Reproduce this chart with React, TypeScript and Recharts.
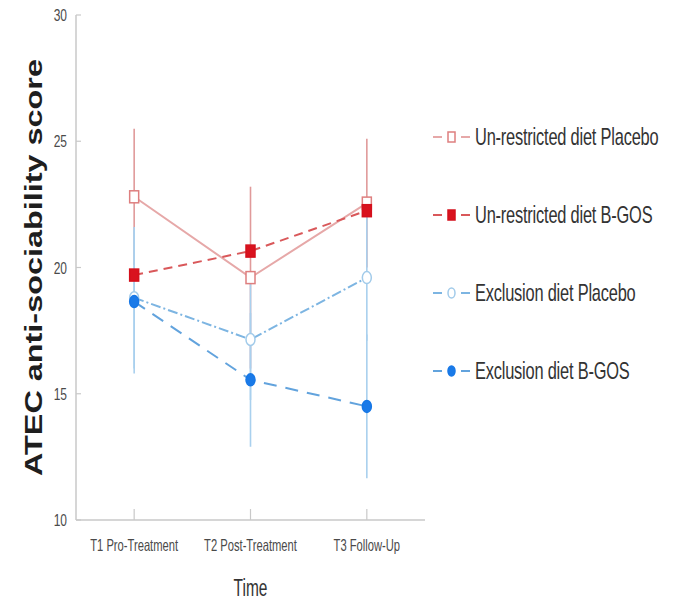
import React from 'react';
import { LineChart, Line, XAxis, YAxis, ErrorBar, Label } from 'recharts';

const times = ['T1 Pro-Treatment', 'T2 Post-Treatment', 'T3 Follow-Up'];
const unPlacebo = [22.8, 19.6, 22.55];
const unPlaceboErr = [2.7, 3.6, 2.55];
const unBgos = [19.7, 20.65, 22.25];
const exPlacebo = [18.8, 17.15, 19.6];
const exPlaceboErr = [2.8, 2.4, 2.5];
const exBgos = [18.65, 15.55, 14.5];
const exBgosErr = [2.85, 2.65, 2.85];
const yTicks = [10, 15, 20, 25, 30];

// the source picture is stretched vertically, text gets the same stretch
const SY = 1.4;
const FONT = "'Liberation Sans', Arial, sans-serif";
const BOX = '#c9c9c9';

const data = times.map((t, i) => ({
  time: t,
  unPlacebo: unPlacebo[i],
  unPlaceboErr: unPlaceboErr[i],
  unBgos: unBgos[i],
  exPlacebo: exPlacebo[i],
  exPlaceboErr: exPlaceboErr[i],
  exBgos: exBgos[i],
  exBgosErr: exBgosErr[i],
}));

type Series = {
  key: string;
  name: string;
  line: string;
  dash?: string;
  shape: 'square' | 'circle';
  stroke: string;
  fill: string;
  err?: string;
  errColor?: string;
};

const series: Series[] = [
  { key: 'unPlacebo', name: 'Un-restricted diet Placebo', line: '#e6a8a8', shape: 'square', stroke: '#de7f7f', fill: '#fff', err: 'unPlaceboErr', errColor: '#e09a9a' },
  { key: 'unBgos', name: 'Un-restricted diet B-GOS', line: '#d9585a', dash: '9 6', shape: 'square', stroke: '#d4101c', fill: '#d9121e' },
  { key: 'exPlacebo', name: 'Exclusion diet Placebo', line: '#7db5e2', dash: '10 3 2 3', shape: 'circle', stroke: '#a2cbea', fill: '#fff', err: 'exPlaceboErr', errColor: '#a9d0ee' },
  { key: 'exBgos', name: 'Exclusion diet B-GOS', line: '#62a3dd', dash: '13 9', shape: 'circle', stroke: '#1677e6', fill: '#1a7ae8', err: 'exBgosErr', errColor: '#a9d0ee' },
];

// red B-GOS sits on top in the original
const drawOrder = ['unPlacebo', 'exPlacebo', 'exBgos', 'unBgos'];

function Marker({ cx, cy, s, w = 9, h = 12 }: { cx: number; cy: number; s: Series; w?: number; h?: number }) {
  if (cx == null || cy == null) return null;
  if (s.shape === 'square') {
    return <rect x={cx - w / 2} y={cy - h / 2} width={w} height={h} fill={s.fill} stroke={s.stroke} strokeWidth={1.5} />;
  }
  return <ellipse cx={cx} cy={cy} rx={w / 2} ry={h / 2} fill={s.fill} stroke={s.stroke} strokeWidth={1.5} />;
}

function XTick({ x, y, payload }: any) {
  return (
    <g transform={`translate(${x},${y}) scale(1,${SY})`}>
      <text textAnchor="middle" dy="0.72em" fontSize={11.2} fontFamily={FONT} fill="#4a4a4a">
        {payload.value}
      </text>
    </g>
  );
}

function YTick({ x, y, payload }: any) {
  return (
    <g transform={`translate(${x},${y}) scale(1,${SY})`}>
      <text textAnchor="end" dy="0.36em" fontSize={12} fontFamily={FONT} fill="#4a4a4a">
        {payload.value}
      </text>
    </g>
  );
}

function YTitle({ viewBox }: any) {
  const cx = viewBox.x - 3;
  const cy = viewBox.y + viewBox.height / 2;
  return (
    <g transform={`translate(${cx},${cy}) rotate(-90) scale(${SY - 0.05},1)`}>
      <text textAnchor="middle" dy="0.36em" fontSize={24} fontWeight="bold" fontFamily={FONT} fill="#1e1e1e">
        ATEC anti-sociability score
      </text>
    </g>
  );
}

function XTitle({ viewBox }: any) {
  const cx = viewBox.x + viewBox.width / 2;
  return (
    <g transform={`translate(${cx},${viewBox.y + 68}) scale(1,${SY + 0.1})`}>
      <text textAnchor="middle" dy="0.36em" fontSize={15.5} fontFamily={FONT} fill="#333">
        Time
      </text>
    </g>
  );
}

function LegendBox() {
  return (
    <div style={{ position: 'absolute', left: 433, top: 98, fontFamily: FONT }}>
      {series.map((s) => (
        <div key={s.key} style={{ height: 78, display: 'flex', alignItems: 'center' }}>
          <svg width={38} height={18}>
            <line x1={0} x2={9} y1={9} y2={9} stroke={s.line} strokeWidth={2} />
            <line x1={28} x2={37} y1={9} y2={9} stroke={s.line} strokeWidth={2} />
            <Marker cx={18.5} cy={9} s={s} w={7} h={10} />
          </svg>
          <span
            style={{
              display: 'inline-block',
              marginLeft: 4,
              fontSize: 16.4,
              letterSpacing: -0.2,
              color: '#333',
              transform: `scaleY(${SY + 0.05})`,
              whiteSpace: 'nowrap',
            }}
          >
            {s.name}
          </span>
        </div>
      ))}
    </div>
  );
}

export default function App() {
  const ordered = drawOrder.map((k) => series.find((s) => s.key === k)!);
  return (
    <div style={{ position: 'absolute', left: 0, top: 0, width: 677, height: 601, background: '#fff' }}>
      <LineChart width={677} height={601} data={data} margin={{ top: 15, right: 252, bottom: 31, left: 36 }}>
        <XAxis
          dataKey="time"
          scale="band"
          interval={0}
          height={50}
          tickSize={-11}
          tickMargin={31}
          tick={<XTick />}
          axisLine={{ stroke: BOX, strokeWidth: 1.5 }}
          tickLine={{ stroke: BOX, strokeWidth: 1.2 }}
        >
          <Label content={<XTitle />} />
        </XAxis>
        <XAxis xAxisId="top" orientation="top" dataKey="time" scale="band" height={0} tick={false} tickLine={false} axisLine={{ stroke: BOX, strokeWidth: 1.5 }} />
        <YAxis
          domain={[10, 30]}
          ticks={yTicks}
          interval={0}
          width={40}
          tickSize={-5}
          tickMargin={14}
          tick={<YTick />}
          axisLine={{ stroke: BOX, strokeWidth: 1.5 }}
          tickLine={{ stroke: BOX, strokeWidth: 1.2 }}
        >
          <Label content={<YTitle />} />
        </YAxis>
        <YAxis yAxisId="r" orientation="right" domain={[10, 30]} width={0} tick={false} tickLine={false} axisLine={{ stroke: BOX, strokeWidth: 1.5 }} />
        {ordered.map((s) => (
          <Line
            key={s.key}
            dataKey={s.key}
            name={s.name}
            stroke={s.line}
            strokeWidth={2}
            strokeDasharray={s.dash}
            isAnimationActive={false}
            activeDot={false}
            dot={(p: any) => <Marker key={`${s.key}-${p.index}`} cx={p.cx} cy={p.cy} s={s} />}
          >
            {s.err && (
              <ErrorBar dataKey={s.err} width={0} stroke={s.errColor} strokeWidth={1.6} direction="y" isAnimationActive={false} />
            )}
          </Line>
        ))}
      </LineChart>
      <LegendBox />
    </div>
  );
}
